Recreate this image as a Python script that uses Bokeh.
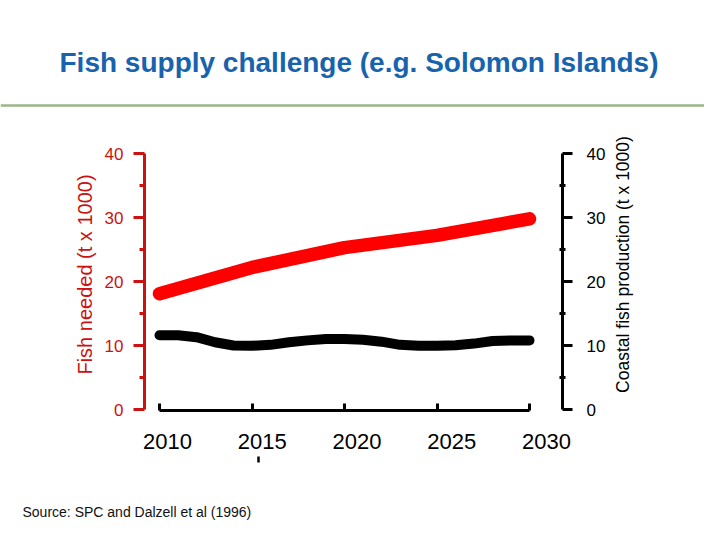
import math
from bokeh.plotting import figure
from bokeh.models import Range1d, LinearAxis, FixedTicker
from bokeh.embed import file_html
from bokeh.resources import INLINE
from bokeh.core.properties import value

# ---------------- data ----------------
years = list(range(2010, 2031))
coastal_production = [11.6, 11.6, 11.3, 10.5, 10.0, 9.95, 10.1, 10.5, 10.8, 11.0,
                      11.0, 10.9, 10.6, 10.1, 9.95, 9.95, 10.05, 10.3, 10.7, 10.8, 10.8]
need_years = [2010, 2015, 2020, 2025, 2030]
fish_needed = [18.1, 22.2, 25.3, 27.2, 29.8]
x_ticks = [2010, 2015, 2020, 2025, 2030]
y_ticks = [0, 10, 20, 30, 40]
y_minor = [5, 15, 25, 35]
title_text = "Fish supply challenge (e.g. Solomon Islands)"
source_text = "Source:  SPC and Dalzell et al (1996)"
left_label = "Fish needed (t x 1000)"
right_label = "Coastal fish production (t x 1000)"

FONT = "Liberation Sans"
W, H = 704, 524
RED_AX = "#cc1111"
TITLE_BLUE = "#1763ad"

# canvas-pixel layout constants
X_PX_PER_YEAR = 18.5
X_2010_PX = 159.0
Y_PX_PER_UNIT = 6.4
Y_0_PX = 409.0
LAB_PX_PER_YEAR = 18.95
LAB_2010_PX = 167.0


def yr_at(px, origin=X_2010_PX, scale=X_PX_PER_YEAR):
    return 2010 + (px - origin) / scale


def val_at(py):
    return (Y_0_PX - py) / Y_PX_PER_UNIT


p = figure(width=W, height=H,
           x_range=Range1d(yr_at(0), yr_at(W)),
           y_range=Range1d(val_at(H), val_at(0)),
           toolbar_location=None, output_backend="svg", min_border=0,
           outline_line_color=None, x_axis_location=None, y_axis_location=None)
p.grid.visible = False
p.extra_x_ranges = {"lab": Range1d(yr_at(0, LAB_2010_PX, LAB_PX_PER_YEAR),
                                   yr_at(W, LAB_2010_PX, LAB_PX_PER_YEAR)),
                    "px": Range1d(0, W)}
p.extra_y_ranges = {"px": Range1d(H, 0)}

AXIS_LEFT = yr_at(144)
AXIS_RIGHT = yr_at(562)
AXIS_BOTTOM = val_at(410)

# bottom axis: line + inward ticks
xa = LinearAxis(ticker=FixedTicker(ticks=x_ticks), bounds=(2010, 2030),
                fixed_location=AXIS_BOTTOM,
                axis_line_color="black", axis_line_width=3,
                major_tick_line_color="black", major_tick_line_width=3,
                major_tick_in=7, major_tick_out=0, minor_tick_line_color=None,
                major_label_text_color=None)
p.add_layout(xa, "below")
# bottom axis labels (placed slightly offset, as in the slide)
xl = LinearAxis(x_range_name="lab", ticker=FixedTicker(ticks=x_ticks),
                fixed_location=AXIS_BOTTOM,
                axis_line_color=None, major_tick_line_color=None, minor_tick_line_color=None,
                major_tick_in=0, major_tick_out=0,
                major_label_text_font=FONT, major_label_text_font_size="22px",
                major_label_text_color="black", major_label_standoff=23)
p.add_layout(xl, "below")

ly = LinearAxis(ticker=FixedTicker(ticks=y_ticks, minor_ticks=y_minor), bounds=(0, 40),
                fixed_location=AXIS_LEFT,
                axis_line_color=RED_AX, axis_line_width=3,
                major_tick_line_color=RED_AX, major_tick_line_width=3,
                major_tick_in=0, major_tick_out=11,
                minor_tick_line_color=RED_AX, minor_tick_line_width=3,
                minor_tick_in=0, minor_tick_out=5,
                major_label_text_font=FONT, major_label_text_font_size="17px",
                major_label_text_color=RED_AX, major_label_standoff=10)
p.add_layout(ly, "left")

ry = LinearAxis(ticker=FixedTicker(ticks=y_ticks, minor_ticks=y_minor), bounds=(0, 40),
                fixed_location=AXIS_RIGHT,
                axis_line_color="black", axis_line_width=3,
                major_tick_line_color="black", major_tick_line_width=3,
                major_tick_in=0, major_tick_out=10,
                minor_tick_line_color="black", minor_tick_line_width=3,
                minor_tick_in=3, minor_tick_out=3,
                major_label_text_font=FONT, major_label_text_font_size="17px",
                major_label_text_color="black", major_label_standoff=14)
p.add_layout(ry, "right")

# data lines
p.line(years, coastal_production, line_color="black", line_width=10,
       line_cap="round", line_join="round")
p.line(need_years, fish_needed, line_color="#ff0000", line_width=13.5,
       line_cap="round", line_join="round")

# slide decorations and axis titles (canvas pixel coordinates)
p.text(x=[358.5], y=[62], text=[title_text], x_range_name="px", y_range_name="px",
       text_font=value(FONT), text_font_style="bold", text_font_size="28px",
       text_color=TITLE_BLUE, text_align="center", text_baseline="alphabetic")
p.segment(x0=[0], y0=[105], x1=[W], y1=[105], x_range_name="px", y_range_name="px",
          line_color="#9bb58a", line_width=2.5)
p.segment(x0=[258], y0=[456], x1=[258], y1=[462], x_range_name="px", y_range_name="px",
          line_color="black", line_width=2.5)
p.text(x=[84], y=[274], text=[left_label], x_range_name="px", y_range_name="px",
       angle=math.pi / 2, text_font=value(FONT), text_font_size="20px",
       text_color=RED_AX, text_align="center", text_baseline="middle")
p.text(x=[622], y=[264], text=[right_label], x_range_name="px", y_range_name="px",
       angle=math.pi / 2, text_font=value(FONT), text_font_size="17.5px",
       text_color="black", text_align="center", text_baseline="middle")
p.text(x=[22], y=[511], text=[source_text], x_range_name="px", y_range_name="px",
       text_font=value(FONT), text_font_size="14px", text_color="#111111",
       text_align="left", text_baseline="alphabetic")

open("out.html", "w").write(file_html(p, INLINE))
